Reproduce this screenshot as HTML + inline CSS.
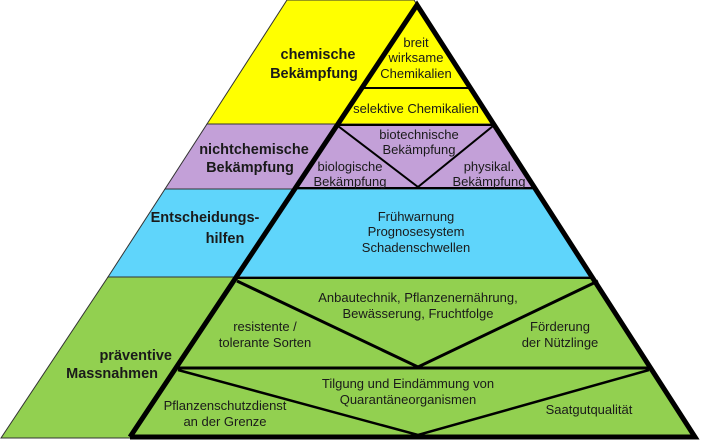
<!DOCTYPE html>
<html><head><meta charset="utf-8"><style>
html,body{margin:0;padding:0;background:#fff;}
svg{display:block;}
text{font-family:"Liberation Sans",Arial,sans-serif;fill:#1a1a1a;text-anchor:middle;}
.b{font-weight:bold;font-size:14.5px;}
.n{font-size:13px;}
</style></head><body>
<svg width="702" height="440" viewBox="0 0 702 440" xmlns="http://www.w3.org/2000/svg">
<polygon points="287,0 414,0 493,124 207,124" fill="#ffff00" stroke="#333" stroke-width="1"/>
<polygon points="207,124 493,124 535,189 165,189" fill="#c3a0d8" stroke="#333" stroke-width="1"/>
<polygon points="165,189 535,189 591,277 108,277" fill="#5fd5fb" stroke="#333" stroke-width="1"/>
<polygon points="108,277 591,277 696,438 1,438" fill="#92d050" stroke="#333" stroke-width="1"/>
<line x1="360" y1="88" x2="470" y2="88" stroke="#000" stroke-width="2"/>
<line x1="336" y1="125" x2="493" y2="125" stroke="#000" stroke-width="2"/>
<polyline points="338,126 418,187 493,126" fill="none" stroke="#000" stroke-width="2"/>
<line x1="294" y1="188" x2="536" y2="188" stroke="#000" stroke-width="2"/>
<line x1="235" y1="278" x2="592" y2="278" stroke="#000" stroke-width="2"/>
<polyline points="237,281 418,367 598,281" fill="none" stroke="#000" stroke-width="3"/>
<line x1="175" y1="368" x2="650" y2="368" stroke="#000" stroke-width="3"/>
<polyline points="178,370 418,435 649,370" fill="none" stroke="#000" stroke-width="2.5"/>
<polyline points="130,437 417,5 695,437 130,437" fill="none" stroke="#000" stroke-width="5" stroke-linejoin="miter"/>
<text class="b" x="318" y="59">chemische</text>
<text class="b" x="314" y="78">Bekämpfung</text>
<text class="n" x="416" y="47">breit</text>
<text class="n" x="416" y="62">wirksame</text>
<text class="n" x="416" y="78">Chemikalien</text>
<text class="n" x="416" y="113">selektive Chemikalien</text>
<text class="b" x="254" y="154">nichtchemische</text>
<text class="b" x="250" y="172">Bekämpfung</text>
<text class="n" x="419" y="139">biotechnische</text>
<text class="n" x="419" y="154">Bekämpfung</text>
<text class="n" x="350" y="171">biologische</text>
<text class="n" x="350" y="186">Bekämpfung</text>
<text class="n" x="489" y="171">physikal.</text>
<text class="n" x="489" y="186">Bekämpfung</text>
<text class="b" x="205" y="222">Entscheidungs-</text>
<text class="b" x="225" y="243">hilfen</text>
<text class="n" x="416" y="221">Frühwarnung</text>
<text class="n" x="416" y="236">Prognosesystem</text>
<text class="n" x="416" y="252">Schadenschwellen</text>
<text class="n" x="418" y="302">Anbautechnik, Pflanzenernährung,</text>
<text class="n" x="418" y="318">Bewässerung, Fruchtfolge</text>
<text class="n" x="265" y="331">resistente /</text>
<text class="n" x="265" y="347">tolerante Sorten</text>
<text class="n" x="560" y="331">Förderung</text>
<text class="n" x="560" y="347">der Nützlinge</text>
<text class="b" x="172" y="360" style="text-anchor:end">präventive</text>
<text class="b" x="158" y="378" style="text-anchor:end">Massnahmen</text>
<text class="n" x="408" y="388">Tilgung und Eindämmung von</text>
<text class="n" x="408" y="404">Quarantäneorganismen</text>
<text class="n" x="225" y="410">Pflanzenschutzdienst</text>
<text class="n" x="225" y="426">an der Grenze</text>
<text class="n" x="589" y="414">Saatgutqualität</text>
</svg>
</body></html>
